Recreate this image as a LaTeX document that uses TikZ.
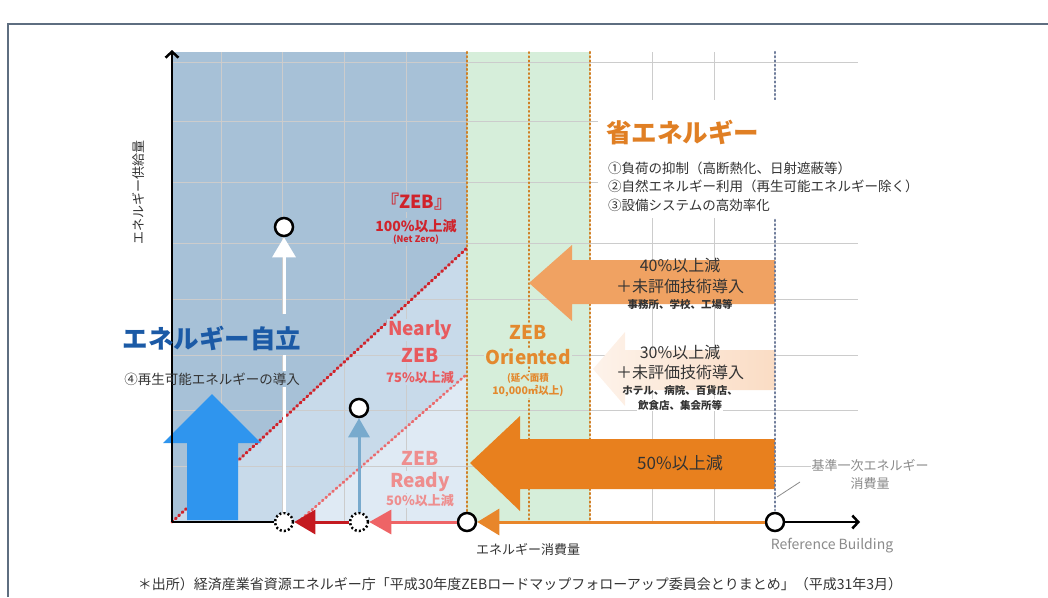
\documentclass[tikz,border=0pt]{standalone}
\usepackage{fontspec}
\setmainfont{Noto Sans CJK JP}
\usetikzlibrary{arrows.meta}
\definecolor{zoneA}{HTML}{A7C1D7}
\definecolor{zoneB}{HTML}{C8DAEA}
\definecolor{zoneC}{HTML}{DFEAF4}
\definecolor{zoneG}{HTML}{D6EEDA}
\definecolor{zebred}{HTML}{D0232B}
\definecolor{nearred}{HTML}{E85A5E}
\definecolor{readypink}{HTML}{EE8E8E}
\definecolor{orient}{HTML}{E3892E}
\definecolor{saveor}{HTML}{E07F24}
\definecolor{orangeA}{HTML}{E8801E}
\definecolor{orangeB}{HTML}{F0A262}
\definecolor{orangeC}{HTML}{FADCC4}
\definecolor{bigblue}{HTML}{2F95EE}
\definecolor{ltblue}{HTML}{78AACD}
\definecolor{darkred}{HTML}{C41A20}
\definecolor{pinkred}{HTML}{EE6466}
\definecolor{axisor}{HTML}{E8862A}
\definecolor{jiritsu}{HTML}{1B5AA6}
\definecolor{framec}{HTML}{5E6E80}
\definecolor{refgrey}{HTML}{6E7C9A}
\definecolor{dotor}{HTML}{D07F24}
\definecolor{textdark}{HTML}{333333}
\definecolor{greytxt}{HTML}{8A8A8A}
\newcommand{\myfs}[1]{\fontsize{#1}{#1}\selectfont}
\begin{document}
\begin{tikzpicture}[x=1pt,y=-1pt,
  txt/.style={inner sep=0pt, text=textdark},
  gridline/.style={black!20, line width=0.8pt},
  odot/.style={draw=dotor, line width=2.4pt, dash pattern=on 1.2pt off 3pt, line cap=round},
  zebdot/.style={draw=zebred, line width=3pt, dash pattern=on 1.2pt off 3.4pt, line cap=round},
  neardot/.style={draw=nearred!90, line width=2.7pt, dash pattern=on 1.2pt off 3.4pt, line cap=round},
  refdot/.style={draw=refgrey, line width=2.2pt, dash pattern=on 1.2pt off 3pt, line cap=round},
  ring/.style={circle, draw=black, line width=2.5pt, fill=white, minimum size=18pt, inner sep=0pt},
  dring/.style={ring, dash pattern=on 2pt off 2.2pt},
  axisseg/.style={line width=3pt},
]
\useasboundingbox (0,0) rectangle (1048,597);
% frame
\draw[framec, line width=1.5pt] (8,597) -- (8,24) -- (1048,24);
% zones
\fill[zoneA] (172,52) -- (467,52) -- (467,248) -- (172,522) -- cycle;
\fill[zoneB] (172,522) -- (467,248) -- (467,374) -- (298,522) -- cycle;
\fill[zoneC] (298,522) -- (467,374) -- (467,522) -- cycle;
\fill[zoneG] (467,52) rectangle (590,522);
% grid
\foreach \gx in {221,282,344,406,652,714} \draw[gridline] (\gx,52) -- (\gx,522);
\foreach \gy in {62,121,182,243,299,355,410,466} \draw[gridline] (172,\gy) -- (858,\gy);
% dotted verticals
\draw[odot] (467,52) -- (467,512);
\draw[odot] (590,52) -- (590,522);
\draw[odot, line width=1.8pt] (529,52) -- (529,522);
% diagonals
\draw[zebdot] (172,522) -- (467,248);
\draw[neardot] (298,522) -- (467,374);
% block arrows
\fill[orangeB] (775,260) -- (572,260) -- (572,245) -- (529,283) -- (572,321) -- (572,304) -- (775,304) -- cycle;
\shade[left color=orangeC!35, right color=orangeC] (775,350) -- (625,350) -- (625,332) -- (593,369) -- (625,406) -- (625,390) -- (775,390) -- cycle;
\fill[orangeA] (775,439) -- (520,439) -- (520,416) -- (470,463) -- (520,511) -- (520,489) -- (775,489) -- cycle;
\fill[bigblue] (187,520) -- (187,443) -- (163,443) -- (212,394) -- (261,443) -- (238,443) -- (238,520) -- cycle;
% reference dotted line
\draw[refdot] (775,52) -- (775,510);
% white panel behind text
\fill[white] (598,100) rectangle (905,218);
% circles
\node[dring] (c1) at (284,522) {};
\node[dring] (c2) at (359,522) {};
\node[ring] (c3) at (467,522) {};
\node[ring] (ref) at (775,522) {};
\node[ring] (t1) at (284,227) {};
\node[ring] (t2) at (359,408) {};
\coordinate (o) at (172,522);
\coordinate (ytop) at (172,50);
\coordinate (xend) at (860,522);
% axes
\draw[line width=2.5pt, -{Straight Barb[length=6pt,width=13pt]}] (o) -- (ytop);
\draw[line width=2.5pt] (o) -- (c1.west);
\draw[line width=2.5pt, -{Straight Barb[length=6pt,width=13pt]}] (ref.east) -- (xend);
\draw[axisseg, darkred, -{Triangle[length=21pt,width=24pt]}] (c2.west) -- (c1.east);
\draw[axisseg, pinkred, -{Triangle[length=22pt,width=24pt]}] (c3.west) -- (c2.east);
\draw[axisseg, axisor, -{Triangle[length=22pt,width=26pt]}] (ref.west) -- (c3.east);
\draw[axisseg, white, -{Triangle[length=20pt,width=23pt]}] (c1.north) -- (t1.south);
\draw[axisseg, ltblue, -{Triangle[length=19pt,width=21pt]}] (c2.north) -- (t2.south);
% background patches behind the autonomy label
\fill[zoneA] (279,314) rectangle (289,355);
\fill[zoneA] (279,371) rectangle (289,387);
% left labels
\node[txt, rotate=90, font=\myfs{13}] (ylab) at (138,192) {エネルギー供給量};
\node[txt, text=jiritsu, font=\bfseries\myfs{25.5}] (jir) at (212,338) {エネルギー自立};
\node[txt, font=\myfs{13.5}] (rin) at (212,379) {④再生可能エネルギーの導入};
% ZEB labels
\node[txt, text=zebred, font=\bfseries\myfs{18}, fill=zoneA, inner sep=1pt] (zeb) at (417,202) {『ZEB』};
\node[txt, text=zebred, font=\bfseries\myfs{14}, fill=zoneA, inner sep=1pt] (zeb2) at (416,226) {100\%以上減};
\node[txt, text=zebred, font=\bfseries\myfs{9}, fill=zoneA, inner sep=1pt] (zeb3) at (416,240) {(Net Zero)};
\node[txt, text=nearred, font=\bfseries\myfs{19}, fill=zoneB, inner sep=1pt] (nz1) at (420,330) {Nearly};
\node[txt, text=nearred, font=\bfseries\myfs{19}, fill=zoneB, inner sep=1pt] (nz2) at (420,355) {ZEB};
\node[txt, text=nearred, font=\bfseries\myfs{13}, fill=zoneB, inner sep=1pt] (nz3) at (420,378) {75\%以上減};
\node[txt, text=readypink, font=\bfseries\myfs{19}, fill=zoneC, inner sep=1pt] (rd1) at (420,458) {ZEB};
\node[txt, text=readypink, font=\bfseries\myfs{19}, fill=zoneC, inner sep=1pt] (rd2) at (420,482) {Ready};
\node[txt, text=readypink, font=\bfseries\myfs{13}, fill=zoneC, inner sep=1pt] (rd3) at (420,501) {50\%以上減};
\node[txt, text=orient, font=\bfseries\myfs{19}, fill=zoneG, inner sep=1pt] (or1) at (528,332) {ZEB};
\node[txt, text=orient, font=\bfseries\myfs{19}, fill=zoneG, inner sep=1pt] (or2) at (528,357) {Oriented};
\node[txt, text=orient, font=\bfseries\myfs{9.5}, fill=zoneG, inner sep=1pt] (or3) at (528,378) {(延べ面積};
\node[txt, text=orient, font=\bfseries\myfs{10.5}, fill=zoneG, inner sep=1pt] (or4) at (528,391) {10,000㎡以上)};
% save energy
\node[txt, text=saveor, font=\bfseries\myfs{25.5}, anchor=west] (save) at (606,133) {省エネルギー};
\node[txt, font=\myfs{13.5}, anchor=west] (s1) at (608,168) {①負荷の抑制（高断熱化、日射遮蔽等）};
\node[txt, font=\myfs{13.5}, anchor=west] (s2) at (608,186) {②自然エネルギー利用（再生可能エネルギー除く）};
\node[txt, font=\myfs{13.5}, anchor=west] (s3) at (608,205) {③設備システムの高効率化};
% arrow texts
\node[txt, font=\myfs{16}] (a40a) at (680,265) {40\%以上減};
\node[txt, font=\myfs{16}] (a40b) at (680,286) {＋未評価技術導入};
\node[txt, font=\bfseries\myfs{10.5}] (a40c) at (680,304) {事務所、学校、工場等};
\node[txt, font=\myfs{16}] (a30a) at (680,352) {30\%以上減};
\node[txt, font=\myfs{16}] (a30b) at (680,372) {＋未評価技術導入};
\node[txt, font=\bfseries\myfs{10.5}] (a30c) at (680,390) {ホテル、病院、百貨店、};
\node[txt, font=\bfseries\myfs{10.5}, fill=white, inner sep=1pt] (a30d) at (680,405) {飲食店、集会所等};
\node[txt, font=\myfs{17}] (a50) at (680,463) {50\%以上減};
% reference labels
\node[txt, text=greytxt, font=\myfs{13}, fill=white, inner sep=1pt] (kj1) at (870,465) {基準一次エネルギー};
\node[txt, text=greytxt, font=\myfs{13}] (kj2) at (870,484) {消費量};
\coordinate (k1) at (777,497);
\coordinate (k2) at (800,482);
\draw[greytxt, line width=0.8pt] (k1) -- (k2);
\node[txt, text=greytxt, font=\myfs{14}] (refb) at (832,546) {Reference Building};
\node[txt, font=\myfs{13}] (xlab) at (528,549) {エネルギー消費量};
\node[txt, font=\myfs{14}] (cap) at (520,584) {＊出所）経済産業省資源エネルギー庁「平成30年度ZEBロードマップフォローアップ委員会とりまとめ」（平成31年3月）};
\end{tikzpicture}
\end{document}
